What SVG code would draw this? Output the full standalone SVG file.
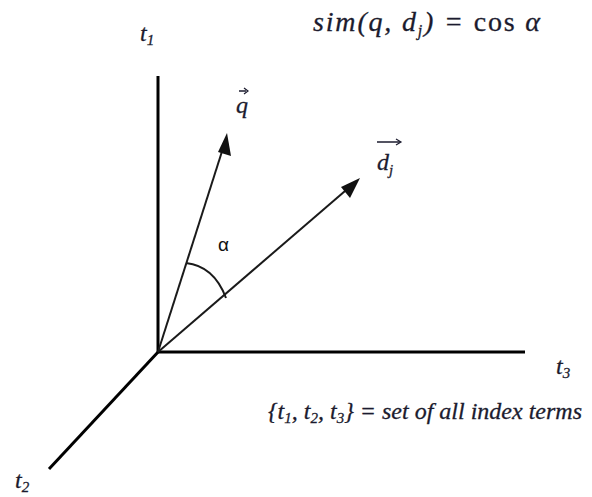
<svg xmlns="http://www.w3.org/2000/svg" width="592" height="497" viewBox="0 0 592 497">
<style>
.ax{stroke:#000;stroke-width:3;fill:none}
.vec{stroke:#1a1a1a;stroke-width:2;fill:none}
.head{fill:#111}
.m{font-family:"Liberation Serif","DejaVu Serif",serif;font-style:italic;font-size:24px;fill:#1b1b2e;stroke:#1b1b2e;stroke-width:0.3}
.sub{font-size:15px}
</style>
<rect width="592" height="497" fill="#fff"/>
<g id="connectors">
<line class="ax" x1="158" y1="76" x2="158" y2="353"/>
<line class="ax" x1="157" y1="352" x2="525" y2="352"/>
<line class="ax" x1="159" y1="351" x2="49" y2="469"/>
<path class="vec" d="M158,352 L225,142"/>
<polygon class="head" points="227,133 231,156 218,152"/>
<path class="vec" d="M158,352 L352,185"/>
<polygon class="head" points="360,178 350,198 341,187"/>
<path class="vec" d="M186,263 Q214,266 226,298"/>
</g>
<g id="t1"><text class="m" x="140" y="41">t<tspan class="sub" dy="4">1</tspan></text></g>
<g id="sim"><text class="m" x="313" y="31" style="font-size:28px" textLength="227" lengthAdjust="spacing">sim(q, d<tspan class="sub" dy="5" style="font-size:16px">j</tspan><tspan dy="-5">) = </tspan><tspan style="font-style:normal">cos</tspan> α</text></g>
<g id="q"><text class="m" x="236" y="113">q</text><line x1="239" y1="91" x2="246" y2="91" stroke="#1b1b2e" stroke-width="1.5"/><path d="M244,88 L248,91 L244,94" fill="none" stroke="#1b1b2e" stroke-width="1.2"/></g>
<g id="dj"><text class="m" x="377" y="170">d<tspan class="sub" dy="5">j</tspan></text><line x1="377" y1="142" x2="400" y2="142" stroke="#1b1b2e" stroke-width="1.5"/><path d="M396,139 L401,142 L396,145" fill="none" stroke="#1b1b2e" stroke-width="1.2"/></g>
<g id="alpha"><text x="218" y="251" font-family="Liberation Sans,sans-serif" font-size="19" fill="#111">α</text></g>
<g id="t3"><text class="m" x="556" y="374">t<tspan class="sub" dy="4">3</tspan></text></g>
<g id="t2"><text class="m" x="15" y="488">t<tspan class="sub" dy="4">2</tspan></text></g>
<g id="set"><text class="m" x="268" y="419" textLength="314" lengthAdjust="spacing">{t<tspan class="sub" dy="4">1</tspan><tspan dy="-4">, t</tspan><tspan class="sub" dy="4">2</tspan><tspan dy="-4">, t</tspan><tspan class="sub" dy="4">3</tspan><tspan dy="-4">} = set of all index terms</tspan></text></g>
</svg>
